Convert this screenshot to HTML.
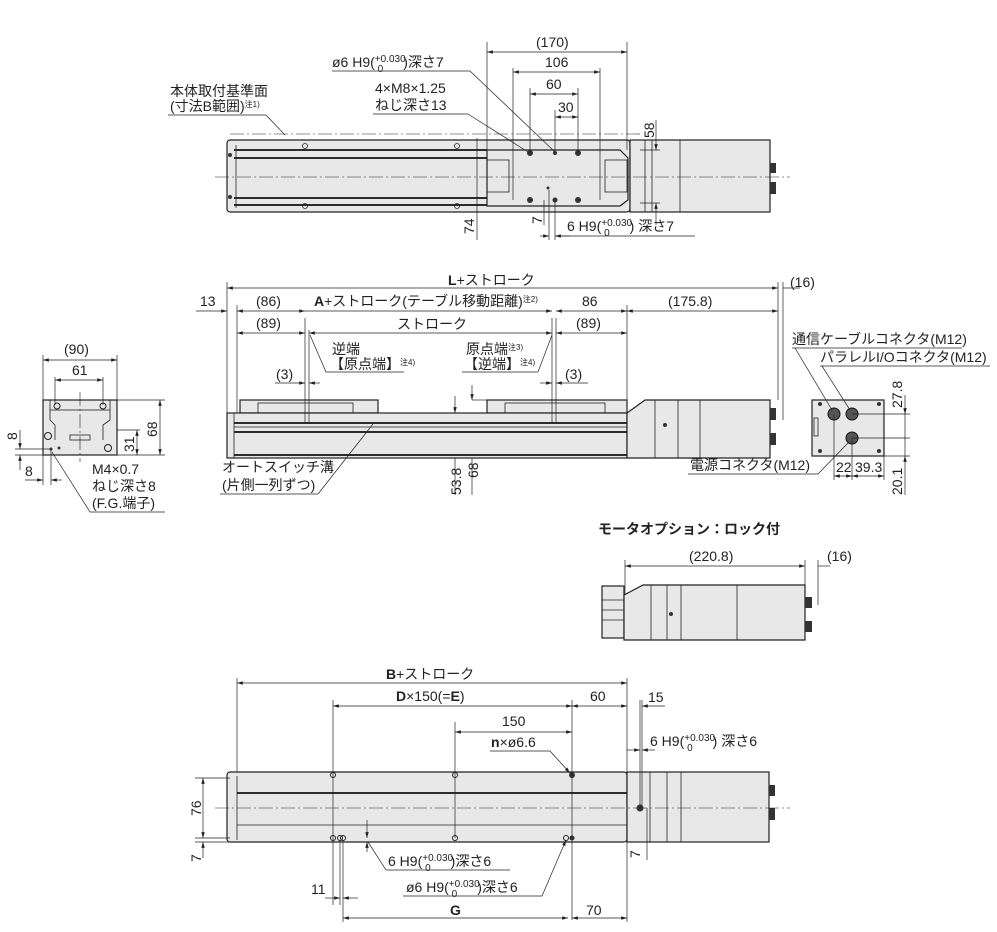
<!DOCTYPE html>
<html><head><meta charset="utf-8"><style>
html,body{margin:0;padding:0;background:#fff;}
svg{display:block;font-family:"Liberation Sans","Noto Sans CJK JP",sans-serif;}
text{fill:#222;font-size:14px;}
.s{fill:none;stroke:#222;stroke-width:0.8}
.b{fill:#e8e8e8;stroke:#222;stroke-width:1.2}
.d{stroke:#222;stroke-width:0.7;fill:none}
.c{stroke:#222;stroke-width:0.6;stroke-dasharray:14 3 2 3;fill:none}
.k{stroke:#111;stroke-width:1.8}
</style></head><body>
<svg width="997" height="932" viewBox="0 0 997 932">
<defs>
<marker id="a" viewBox="0 0 10 6" refX="10" refY="3" markerWidth="9" markerHeight="5" orient="auto-start-reverse"><path d="M0,0L10,3L0,6z" fill="#222"/></marker>
</defs>

<!-- ===== TOP VIEW ===== -->
<rect class="b" x="227" y="140" width="403" height="72" rx="3"/>
<line class="k" x1="234" y1="150" x2="487" y2="150"/><line class="k" x1="234" y1="158" x2="487" y2="158"/>
<line class="k" x1="234" y1="198" x2="487" y2="198"/><line class="k" x1="234" y1="205" x2="487" y2="205"/>
<line class="s" x1="236" y1="145" x2="236" y2="208"/>
<path class="b" d="M487,150 L620,150 L628,158 L628,200 L620,206 L487,206 Z"/>
<rect class="s" x="487" y="160" width="22" height="32"/><rect class="s" x="605" y="160" width="22" height="32"/>
<rect class="b" x="630" y="140" width="140" height="72"/>
<line class="s" x1="645" y1="140" x2="645" y2="212"/><line class="s" x1="652" y1="140" x2="652" y2="212"/><line class="s" x1="680" y1="140" x2="680" y2="212"/>
<rect x="770" y="163" width="6" height="10" fill="#333"/><rect x="770" y="182" width="6" height="12" fill="#333"/>
<line class="c" x1="215" y1="177" x2="790" y2="177"/>
<line class="c" x1="230" y1="134" x2="640" y2="134"/>
<g fill="none" stroke="#222" stroke-width="0.8">
<circle cx="305" cy="146" r="2.5"/><circle cx="305" cy="206" r="2.5"/><circle cx="457" cy="146" r="2.5"/><circle cx="457" cy="206" r="2.5"/>
</g>
<g fill="#333"><circle cx="530" cy="153" r="3"/><circle cx="578" cy="153" r="3"/><circle cx="530" cy="200" r="3"/><circle cx="578" cy="200" r="3"/><circle cx="555" cy="153" r="2"/><circle cx="555" cy="200" r="2.5"/><circle cx="230" cy="155" r="2"/><circle cx="230" cy="197" r="2"/><circle cx="548" cy="188" r="1.5"/></g>
<line class="d" x1="487" y1="42" x2="487" y2="150"/><line class="d" x1="627" y1="42" x2="627" y2="150"/>
<line class="d" x1="487" y1="52" x2="627" y2="52" marker-start="url(#a)" marker-end="url(#a)"/>
<text x="536" y="47">(170)</text>
<line class="d" x1="513" y1="68" x2="513" y2="200"/><line class="d" x1="600" y1="68" x2="600" y2="200"/>
<line class="d" x1="513" y1="72" x2="600" y2="72" marker-start="url(#a)" marker-end="url(#a)"/>
<text x="545" y="67">106</text>
<line class="d" x1="530" y1="88" x2="530" y2="153"/><line class="d" x1="578" y1="88" x2="578" y2="153"/>
<line class="d" x1="530" y1="94" x2="578" y2="94" marker-start="url(#a)" marker-end="url(#a)"/>
<text x="546" y="89">60</text>
<line class="d" x1="555" y1="110" x2="555" y2="153"/>
<line class="d" x1="555" y1="117" x2="578" y2="117" marker-start="url(#a)" marker-end="url(#a)"/>
<text x="558" y="112">30</text>
<text x="332" y="67">ø6 H9(<tspan font-size="10" dy="-5">+0.030</tspan><tspan font-size="10" dx="-28" dy="10">0</tspan><tspan dy="-5" dx="20">)深さ7</tspan></text>
<line class="d" x1="332" y1="71" x2="470" y2="71"/><line class="d" x1="470" y1="71" x2="555" y2="152"/>
<text x="375" y="93">4×M8×1.25</text><text x="375" y="110">ねじ深さ13</text>
<line class="d" x1="373" y1="114" x2="468" y2="114"/><line class="d" x1="468" y1="114" x2="528" y2="152"/>
<text x="170" y="96" font-size="13">本体取付基準面</text><text x="170" y="111" font-size="13">(寸法B範囲)<tspan font-size="8" dy="-4">注1)</tspan></text>
<line class="d" x1="168" y1="115" x2="266" y2="115"/><line class="d" x1="266" y1="115" x2="285" y2="135"/>
<line class="d" x1="640" y1="150" x2="660" y2="150"/><line class="d" x1="640" y1="203" x2="660" y2="203"/>
<line class="d" x1="656" y1="120" x2="656" y2="150" marker-end="url(#a)"/><line class="d" x1="656" y1="225" x2="656" y2="203" marker-end="url(#a)"/>
<text transform="translate(654,138) rotate(-90)">58</text>
<line class="d" x1="477" y1="138" x2="477" y2="240"/>
<text transform="translate(474,234) rotate(-90)">74</text>
<line class="d" x1="549" y1="190" x2="549" y2="240"/><line class="d" x1="544" y1="200" x2="544" y2="225"/>
<text transform="translate(542,224) rotate(-90)">7</text>
<line class="d" x1="540" y1="236" x2="549" y2="236" marker-end="url(#a)"/><line class="d" x1="570" y1="236" x2="555" y2="236" marker-end="url(#a)"/>
<line class="d" x1="555" y1="200" x2="555" y2="240"/>
<text x="567" y="231">6 H9(<tspan font-size="10" dy="-5">+0.030</tspan><tspan font-size="10" dx="-28" dy="10">0</tspan><tspan dy="-5" dx="20">) 深さ7</tspan></text>
<line class="d" x1="560" y1="236" x2="695" y2="236"/>

<!-- ===== SIDE VIEW ===== -->
<rect class="b" x="240" y="400" width="138" height="13"/><rect class="b" x="487" y="400" width="140" height="13"/>
<rect class="s" x="258" y="403" width="95" height="10"/><rect class="s" x="505" y="403" width="100" height="10"/>
<rect class="b" x="227" y="413" width="400" height="45"/>
<line class="k" x1="234" y1="423" x2="627" y2="423"/><line class="k" x1="234" y1="432" x2="627" y2="432"/><line class="k" x1="234" y1="455" x2="627" y2="455"/>
<line class="s" x1="234" y1="427" x2="627" y2="427"/><line class="s" x1="234" y1="413" x2="234" y2="458"/>
<path class="b" d="M627,413 L645,400 L770,400 L770,458 L627,458 Z"/>
<line class="s" x1="655" y1="400" x2="655" y2="458"/><line class="s" x1="678" y1="400" x2="678" y2="458"/><line class="s" x1="700" y1="400" x2="700" y2="458"/>
<circle cx="665" cy="425" r="2" fill="#333"/>
<rect x="770" y="408" width="6" height="12" fill="#333"/><rect x="770" y="433" width="6" height="12" fill="#333"/>
<line class="d" x1="305" y1="318" x2="305" y2="423"/><line class="d" x1="309" y1="330" x2="309" y2="423"/>
<line class="d" x1="552" y1="318" x2="552" y2="423"/><line class="d" x1="556" y1="318" x2="556" y2="423"/>
<line class="d" x1="227" y1="282" x2="227" y2="413"/><line class="d" x1="237" y1="305" x2="237" y2="413"/><line class="d" x1="627" y1="305" x2="627" y2="400"/>
<line class="d" x1="778" y1="282" x2="778" y2="400"/><line class="d" x1="783" y1="282" x2="783" y2="420"/>
<line class="d" x1="227" y1="288" x2="778" y2="288" marker-start="url(#a)" marker-end="url(#a)"/>
<text x="448" y="285"><tspan font-weight="bold">L</tspan>+ストローク</text>
<line class="d" x1="783" y1="288" x2="800" y2="288"/><text x="790" y="287">(16)</text>
<line class="d" x1="196" y1="311" x2="227" y2="311" marker-end="url(#a)"/><text x="200" y="306">13</text>
<line class="d" x1="237" y1="311" x2="305" y2="311" marker-start="url(#a)" marker-end="url(#a)"/><text x="256" y="306">(86)</text>
<line class="d" x1="305" y1="311" x2="552" y2="311" marker-end="url(#a)"/>
<text x="314" y="306"><tspan font-weight="bold">A</tspan>+ストローク(テーブル移動距離)<tspan font-size="8" dy="-4">注2)</tspan></text>
<line class="d" x1="556" y1="311" x2="627" y2="311" marker-start="url(#a)" marker-end="url(#a)"/><text x="582" y="306">86</text>
<line class="d" x1="627" y1="311" x2="778" y2="311" marker-start="url(#a)" marker-end="url(#a)"/><text x="668" y="306">(175.8)</text>
<line class="d" x1="237" y1="333" x2="305" y2="333" marker-start="url(#a)" marker-end="url(#a)"/><text x="256" y="328">(89)</text>
<line class="d" x1="309" y1="333" x2="552" y2="333" marker-start="url(#a)" marker-end="url(#a)"/><text x="397" y="329">ストローク</text>
<line class="d" x1="556" y1="333" x2="627" y2="333" marker-start="url(#a)" marker-end="url(#a)"/><text x="576" y="328">(89)</text>
<text x="332" y="354" font-size="13">逆端</text><text x="330" y="369" font-size="13">【原点端】<tspan font-size="8" dy="-4">注4)</tspan></text>
<line class="d" x1="326" y1="372" x2="404" y2="372"/><line class="d" x1="326" y1="372" x2="310" y2="335"/>
<text x="466" y="354" font-size="13">原点端<tspan font-size="8" dy="-4">注3)</tspan></text><text x="464" y="369" font-size="13">【逆端】<tspan font-size="8" dy="-4">注4)</tspan></text>
<line class="d" x1="462" y1="372" x2="538" y2="372"/><line class="d" x1="538" y1="372" x2="552" y2="335"/>
<text x="276" y="379">(3)</text><line class="d" x1="275" y1="383" x2="305" y2="383" marker-end="url(#a)"/><line class="d" x1="320" y1="383" x2="309" y2="383" marker-end="url(#a)"/>
<text x="565" y="379">(3)</text><line class="d" x1="540" y1="383" x2="552" y2="383" marker-end="url(#a)"/><line class="d" x1="588" y1="383" x2="556" y2="383" marker-end="url(#a)"/>
<line class="d" x1="455" y1="396" x2="455" y2="413" marker-end="url(#a)"/><line class="d" x1="455" y1="458" x2="455" y2="495"/>
<line class="d" x1="472" y1="385" x2="472" y2="400" marker-end="url(#a)"/><line class="d" x1="472" y1="458" x2="472" y2="495"/>
<line class="d" x1="472" y1="400" x2="487" y2="400"/>
<text transform="translate(461,495) rotate(-90)">53.8</text><text transform="translate(478,478) rotate(-90)">68</text>
<text x="222" y="472" font-size="13">オートスイッチ溝</text><text x="222" y="490" font-size="13">(片側一列ずつ)</text>
<line class="d" x1="220" y1="494" x2="318" y2="494"/><line class="d" x1="318" y1="494" x2="373" y2="424"/>

<!-- right end view -->
<rect class="b" x="812" y="400" width="72" height="56"/>
<rect class="s" x="814" y="418" width="4" height="18"/>
<g fill="#333"><circle cx="820" cy="404" r="2"/><circle cx="879" cy="404" r="2"/><circle cx="820" cy="451" r="2"/><circle cx="879" cy="451" r="2"/></g>
<g fill="#555" stroke="#111"><circle cx="834" cy="414" r="6"/><circle cx="852" cy="414" r="6"/><circle cx="852" cy="438" r="6"/></g>
<text x="792" y="344" font-size="13.5">通信ケーブルコネクタ(M12)</text>
<line class="d" x1="792" y1="348" x2="962" y2="348"/><line class="d" x1="795" y1="348" x2="832" y2="410"/>
<text x="820" y="362" font-size="13.5">パラレルI/Oコネクタ(M12)</text>
<line class="d" x1="820" y1="366" x2="990" y2="366"/><line class="d" x1="822" y1="366" x2="850" y2="410"/>
<text x="690" y="470" font-size="13.5">電源コネクタ(M12)</text>
<line class="d" x1="688" y1="474" x2="818" y2="474"/><line class="d" x1="818" y1="474" x2="848" y2="443"/>
<line class="d" x1="852" y1="414" x2="910" y2="414"/><line class="d" x1="852" y1="438" x2="910" y2="438"/><line class="d" x1="884" y1="456" x2="910" y2="456"/>
<line class="d" x1="905" y1="395" x2="905" y2="414" marker-end="url(#a)"/><line class="d" x1="905" y1="414" x2="905" y2="456"/><line class="d" x1="905" y1="495" x2="905" y2="456" marker-end="url(#a)"/>
<text transform="translate(902,408) rotate(-90)">27.8</text><text transform="translate(902,495) rotate(-90)">20.1</text>
<line class="d" x1="834" y1="414" x2="834" y2="480"/><line class="d" x1="852" y1="438" x2="852" y2="480"/><line class="d" x1="884" y1="456" x2="884" y2="480"/>
<line class="d" x1="834" y1="476" x2="852" y2="476" marker-start="url(#a)" marker-end="url(#a)"/><line class="d" x1="852" y1="476" x2="884" y2="476" marker-start="url(#a)" marker-end="url(#a)"/>
<text x="836" y="472" font-size="13">22</text><text x="855" y="472" font-size="13">39.3</text>

<!-- left end view -->
<rect class="b" x="43" y="400" width="74" height="55"/>
<rect class="s" x="50" y="400" width="60" height="10"/><rect class="s" x="70" y="435" width="20" height="5"/>
<path class="s" d="M50,410 L50,420 L55,425 L55,440"/><path class="s" d="M110,410 L110,420 L103,425 L103,440"/>
<g fill="none" stroke="#222"><circle cx="57" cy="406" r="3"/><circle cx="103" cy="406" r="3"/><circle cx="48" cy="436" r="3.5"/><circle cx="108" cy="448" r="3.5"/></g>
<g fill="#333"><circle cx="51" cy="449" r="1.5"/><circle cx="59" cy="448" r="1.5"/></g>
<line class="c" x1="80" y1="392" x2="80" y2="462"/>
<line class="d" x1="43" y1="355" x2="43" y2="400"/><line class="d" x1="117" y1="355" x2="117" y2="400"/>
<line class="d" x1="43" y1="360" x2="117" y2="360" marker-start="url(#a)" marker-end="url(#a)"/><text x="64" y="354">(90)</text>
<line class="d" x1="55" y1="377" x2="55" y2="405"/><line class="d" x1="103" y1="377" x2="103" y2="405"/>
<line class="d" x1="55" y1="380" x2="103" y2="380" marker-start="url(#a)" marker-end="url(#a)"/><text x="72" y="375">61</text>
<line class="d" x1="117" y1="400" x2="165" y2="400"/><line class="d" x1="117" y1="455" x2="165" y2="455"/><line class="d" x1="117" y1="430" x2="140" y2="430"/>
<line class="d" x1="160" y1="400" x2="160" y2="455" marker-start="url(#a)" marker-end="url(#a)"/><text transform="translate(157,437) rotate(-90)">68</text>
<line class="d" x1="137" y1="430" x2="137" y2="455" marker-start="url(#a)" marker-end="url(#a)"/><text transform="translate(134,452) rotate(-90)">31</text>
<line class="d" x1="15" y1="449" x2="51" y2="449"/><line class="d" x1="15" y1="455" x2="43" y2="455"/>
<line class="d" x1="20" y1="430" x2="20" y2="449" marker-end="url(#a)"/><line class="d" x1="20" y1="470" x2="20" y2="455" marker-end="url(#a)"/>
<text transform="translate(17,440) rotate(-90)">8</text>
<line class="d" x1="43" y1="455" x2="43" y2="485"/><line class="d" x1="51" y1="449" x2="51" y2="485"/>
<line class="d" x1="25" y1="480" x2="43" y2="480" marker-end="url(#a)"/><line class="d" x1="62" y1="480" x2="51" y2="480" marker-end="url(#a)"/>
<text x="25" y="476">8</text>
<text x="92" y="474">M4×0.7</text><text x="92" y="491">ねじ深さ8</text><text x="92" y="508">(F.G.端子)</text>
<line class="d" x1="90" y1="512" x2="165" y2="512"/><line class="d" x1="90" y1="512" x2="52" y2="452"/>

<!-- ===== MOTOR OPTION ===== -->
<text x="598" y="534" font-size="17" font-weight="bold">モータオプション：ロック付</text>
<line class="d" x1="625" y1="560" x2="625" y2="595"/><line class="d" x1="805" y1="560" x2="805" y2="590"/><line class="d" x1="818" y1="560" x2="818" y2="605"/>
<line class="d" x1="625" y1="566" x2="805" y2="566" marker-start="url(#a)" marker-end="url(#a)"/><text x="689" y="561">(220.8)</text>
<line class="d" x1="818" y1="566" x2="830" y2="566"/><text x="827" y="561">(16)</text>
<rect class="b" x="602" y="586" width="22" height="52"/>
<line class="s" x1="602" y1="600" x2="624" y2="600"/><line class="s" x1="602" y1="610" x2="624" y2="610"/><line class="s" x1="602" y1="620" x2="624" y2="620"/>
<path class="b" d="M624,595 L643,585 L805,585 L805,640 L624,640 Z"/>
<line class="s" x1="651" y1="585" x2="651" y2="640"/><line class="s" x1="667" y1="585" x2="667" y2="640"/><line class="s" x1="681" y1="585" x2="681" y2="640"/><line class="s" x1="737" y1="585" x2="737" y2="640"/>
<circle cx="671" cy="614" r="2" fill="#333"/>
<rect x="805" y="597" width="7" height="11" fill="#333"/><rect x="805" y="621" width="7" height="11" fill="#333"/>

<!-- ===== BOTTOM VIEW ===== -->
<rect class="b" x="227" y="772" width="400" height="70" rx="3"/>
<line class="k" x1="237" y1="793" x2="627" y2="793"/><line class="s" x1="237" y1="825" x2="627" y2="825"/>
<line class="s" x1="237" y1="776" x2="237" y2="840"/>
<rect class="b" x="627" y="772" width="142" height="70"/>
<line class="s" x1="650" y1="772" x2="650" y2="842"/><line class="s" x1="667" y1="772" x2="667" y2="842"/><line class="s" x1="681" y1="772" x2="681" y2="842"/>
<rect x="769" y="785" width="6" height="11" fill="#333"/><rect x="769" y="808" width="6" height="12" fill="#333"/>
<line class="c" x1="215" y1="808" x2="790" y2="808"/>
<g fill="none" stroke="#222"><circle cx="333" cy="775" r="2.5"/><circle cx="455" cy="775" r="2.5"/><circle cx="333" cy="838" r="2.5"/><circle cx="455" cy="838" r="2.5"/><circle cx="340" cy="838" r="2.5"/><circle cx="343" cy="838" r="2.5"/><circle cx="566" cy="838" r="2.5"/></g>
<g fill="#333"><circle cx="572" cy="775" r="3"/><circle cx="572" cy="838" r="2.5"/><circle cx="640" cy="808" r="3.5"/></g>
<line class="d" x1="237" y1="678" x2="237" y2="772"/><line class="d" x1="627" y1="678" x2="627" y2="772"/>
<line class="d" x1="237" y1="683" x2="627" y2="683" marker-start="url(#a)" marker-end="url(#a)"/>
<text x="386" y="679"><tspan font-weight="bold">B</tspan>+ストローク</text>
<line class="d" x1="333" y1="700" x2="333" y2="905"/><line class="d" x1="572" y1="700" x2="572" y2="920"/>
<line class="d" x1="333" y1="706" x2="572" y2="706" marker-start="url(#a)" marker-end="url(#a)"/>
<text x="396" y="701"><tspan font-weight="bold">D</tspan>×150(=<tspan font-weight="bold">E</tspan>)</text>
<line class="d" x1="572" y1="706" x2="627" y2="706" marker-start="url(#a)" marker-end="url(#a)"/><text x="590" y="701">60</text>
<line class="d" x1="640" y1="700" x2="640" y2="808"/><line class="d" x1="642" y1="700" x2="642" y2="808"/>
<line class="d" x1="642" y1="706" x2="665" y2="706" marker-start="url(#a)"/><text x="648" y="702">15</text>
<line class="d" x1="455" y1="722" x2="455" y2="838"/>
<line class="d" x1="455" y1="732" x2="572" y2="732" marker-start="url(#a)" marker-end="url(#a)"/><text x="502" y="726">150</text>
<text x="491" y="747"><tspan font-weight="bold">n</tspan>×ø6.6</text>
<line class="d" x1="490" y1="751" x2="550" y2="751"/><line class="d" x1="550" y1="751" x2="570" y2="773" marker-end="url(#a)"/>
<line class="d" x1="627" y1="750" x2="640" y2="750" marker-end="url(#a)"/><line class="d" x1="655" y1="750" x2="642" y2="750" marker-end="url(#a)"/>
<text x="650" y="746">6 H9(<tspan font-size="10" dy="-5">+0.030</tspan><tspan font-size="10" dx="-28" dy="10">0</tspan><tspan dy="-5" dx="20">) 深さ6</tspan></text>
<line class="d" x1="195" y1="778" x2="230" y2="778"/><line class="d" x1="195" y1="838" x2="230" y2="838"/><line class="d" x1="195" y1="842" x2="230" y2="842"/>
<line class="d" x1="203" y1="778" x2="203" y2="838" marker-start="url(#a)" marker-end="url(#a)"/>
<text transform="translate(201,816) rotate(-90)">76</text>
<line class="d" x1="203" y1="858" x2="203" y2="842" marker-end="url(#a)"/>
<text transform="translate(201,862) rotate(-90)">7</text>
<line class="d" x1="647" y1="808" x2="647" y2="860"/>
<text transform="translate(640,858) rotate(-90)">7</text>
<line class="d" x1="367" y1="820" x2="367" y2="838" marker-end="url(#a)"/><line class="d" x1="367" y1="852" x2="367" y2="842" marker-end="url(#a)"/>
<text x="388" y="866">6 H9(<tspan font-size="10" dy="-5">+0.030</tspan><tspan font-size="10" dx="-28" dy="10">0</tspan><tspan dy="-5" dx="20">)深さ6</tspan></text>
<line class="d" x1="386" y1="870" x2="510" y2="870"/><line class="d" x1="386" y1="870" x2="368" y2="842"/>
<text x="406" y="892">ø6 H9(<tspan font-size="10" dy="-5">+0.030</tspan><tspan font-size="10" dx="-28" dy="10">0</tspan><tspan dy="-5" dx="20">)深さ6</tspan></text>
<line class="d" x1="403" y1="896" x2="542" y2="896"/><line class="d" x1="542" y1="896" x2="566" y2="840" marker-end="url(#a)"/>
<line class="d" x1="340" y1="840" x2="340" y2="905"/><line class="d" x1="343" y1="840" x2="343" y2="922"/>
<text x="311" y="894">11</text>
<line class="d" x1="325" y1="898" x2="340" y2="898" marker-end="url(#a)"/><line class="d" x1="358" y1="898" x2="343" y2="898" marker-end="url(#a)"/>
<line class="d" x1="343" y1="918" x2="568" y2="918" marker-start="url(#a)" marker-end="url(#a)"/>
<text x="450" y="915" font-weight="bold">G</text>
<line class="d" x1="572" y1="918" x2="627" y2="918" marker-start="url(#a)" marker-end="url(#a)"/><text x="586" y="915">70</text>
<line class="d" x1="627" y1="842" x2="627" y2="922"/>
</svg>
</body></html>
